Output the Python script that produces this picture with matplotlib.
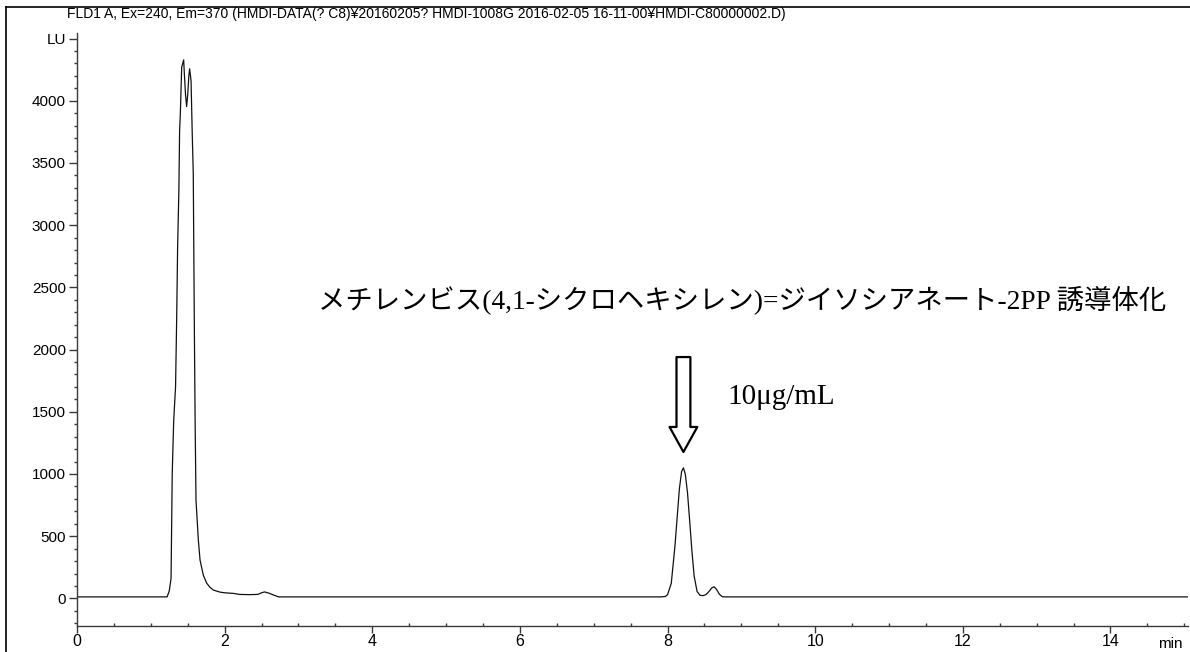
import matplotlib
matplotlib.use("Agg")
import matplotlib.pyplot as plt
from matplotlib.ticker import MultipleLocator, FixedLocator, FixedFormatter
from matplotlib.lines import Line2D
import numpy as np

# ---- data ----
rt_min = [0.0, 1.22, 1.25, 1.274, 1.29, 1.31, 1.335, 1.35, 1.363, 1.38, 1.39, 1.40,
          1.418, 1.445, 1.454, 1.47, 1.485, 1.50, 1.515, 1.526, 1.545, 1.56, 1.575,
          1.59, 1.60, 1.612, 1.644, 1.667, 1.711, 1.756, 1.80, 1.847, 1.94, 2.0,
          2.12, 2.2, 2.34, 2.45, 2.5, 2.54, 2.6, 2.65, 2.73,
          7.90, 7.97, 8.00, 8.05, 8.10, 8.13, 8.16, 8.19, 8.215, 8.24, 8.27, 8.30,
          8.33, 8.36, 8.40, 8.44, 8.48, 8.52, 8.56, 8.60, 8.63, 8.66, 8.70, 8.74,
          8.78, 15.05]
signal_lu = [12, 12, 60, 160, 1004, 1430, 1700, 2237, 2820, 3280, 3760, 3900,
             4270, 4329, 4220, 4050, 3954, 4050, 4200, 4257, 4160, 3760, 3416,
             2150, 1430, 788, 467, 307, 187, 123, 90, 67, 50, 45,
             40, 32, 30, 32, 45, 52, 42, 30, 12,
             12, 15, 30, 120, 420, 650, 880, 1020, 1049, 1000, 850, 620,
             380, 180, 55, 25, 22, 30, 55, 85, 93, 75, 35, 14,
             12, 12]

y_major = [0, 500, 1000, 1500, 2000, 2500, 3000, 3500, 4000, 4500]
y_labels = ["0", "500", "1000", "1500", "2000", "2500", "3000", "3500", "4000", "LU"]
x_major = [0, 2, 4, 6, 8, 10, 12, 14]
x_labels = ["0", "2", "4", "6", "8", "10", "12", "14"]

header = ("FLD1 A, Ex=240, Em=370 (HMDI-DATA(? C8)\u00a520160205? HMDI-1008G "
          "2016-02-05 16-11-00\u00a5HMDI-C80000002.D)")
compound_label = "メチレンビス(4,1-シクロヘキシレン)=ジイソシアネート-2PP 誘導体化"
conc_label = "10μg/mL"

arrow_top_lu = 1940
arrow_tip_lu = 1177

# ---- figure ----
W, H = 1190, 652
fig = plt.figure(figsize=(W / 100, H / 100), dpi=100)
ax = fig.add_axes([77 / W, (H - 626) / H, (1188 - 77) / W, (626 - 33) / H])

ax.plot(rt_min, signal_lu, color="#111111", lw=0.9, solid_joinstyle="round")

ax.set_xlim(0, 15.05)
ax.set_ylim(-222, 4545)

sans = ["Liberation Sans", "DejaVu Sans"]
axis_col = "#3a3a3a"
for s in ["top", "right"]:
    ax.spines[s].set_visible(False)
for s in ["left", "bottom"]:
    ax.spines[s].set_color(axis_col)
    ax.spines[s].set_linewidth(1.0)

ax.yaxis.set_major_locator(FixedLocator(y_major))
ax.yaxis.set_major_formatter(FixedFormatter(y_labels))
ax.yaxis.set_minor_locator(MultipleLocator(100))
ax.xaxis.set_major_locator(FixedLocator(x_major))
ax.xaxis.set_major_formatter(FixedFormatter(x_labels))
ax.xaxis.set_minor_locator(MultipleLocator(0.5))

ax.tick_params(axis="y", which="major", direction="out", length=6, width=1, color=axis_col, pad=2)
ax.tick_params(axis="y", which="minor", direction="out", length=2.5, width=1, color=axis_col)
ax.tick_params(axis="x", which="major", direction="out", length=5, width=1, color=axis_col, pad=1)
ax.tick_params(axis="x", which="minor", direction="in", length=2, width=1, color=axis_col)
for lab in ax.get_yticklabels():
    lab.set_family(sans)
    lab.set_fontsize(11)
for lab in ax.get_xticklabels():
    lab.set_family(sans)
    lab.set_fontsize(11.5)

# "min" unit label
ax.text(14.81, -0.019, "min", transform=ax.get_xaxis_transform(), ha="center", va="top",
        fontsize=11, family=sans)

# header
fig.text(67 / W, 1 - 14 / H, header, ha="left", va="center", fontsize=10.0, family=sans)

# frame lines
fig.add_artist(Line2D([6 / W, 6 / W], [0, 1 - 7 / H], transform=fig.transFigure,
                      color="black", lw=1.2))
fig.add_artist(Line2D([6 / W, 1], [1 - 7 / H, 1 - 7 / H], transform=fig.transFigure,
                      color="black", lw=1.2))

# annotation text
jp = ["Liberation Serif", "Noto Sans CJK JP"]
ax.text(3.27, 2400, compound_label, ha="left", va="center", fontsize=19.7, family=jp)
peak_idx = int(np.argmax(np.where(np.array(rt_min) > 5, signal_lu, 0)))
arrow_x = rt_min[peak_idx]
ax.text(arrow_x + 0.6, 1620, conc_label, ha="left", va="center", fontsize=21,
        family=["Liberation Serif", "DejaVu Serif"])

ax.annotate("", xy=(arrow_x, arrow_tip_lu), xytext=(arrow_x, arrow_top_lu),
            arrowprops=dict(arrowstyle="simple,head_length=1.8,head_width=2.0,tail_width=1.0",
                            mutation_scale=10, fc="white", ec="black", lw=1.6,
                            shrinkA=0, shrinkB=0))

fig.savefig("out.png", dpi=100)
